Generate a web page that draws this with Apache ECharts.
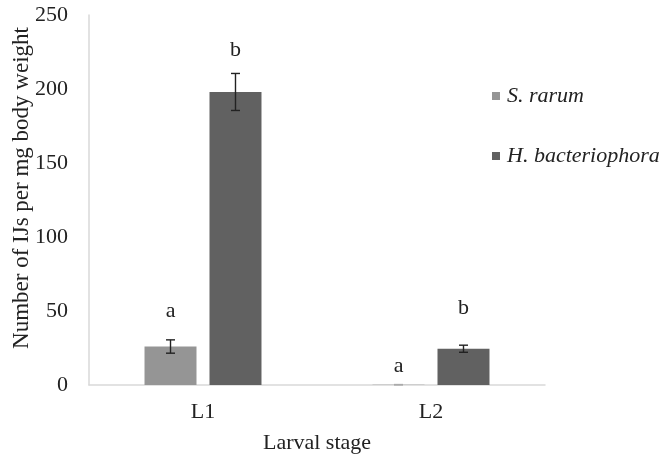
<!DOCTYPE html>
<html><head><meta charset="utf-8">
<script src="https://cdn.jsdelivr.net/npm/echarts@6/dist/echarts.min.js"></script>
<style>html,body{margin:0;padding:0;background:#fff}#c{width:670px;height:460px}</style>
</head><body><div id="c"></div>
<script>
var categories = ['L1', 'L2'];
var seriesNames = ['S. rarum', 'H. bacteriophora'];
var sRarum = [26, 0.2];
var sRarumErr = [4.5, 0.1];
var hBact = [198, 24.5];
var hBactErr = [12.5, 2.4];
var sRarumLetters = ['a', 'a'];
var hBactLetters = ['b', 'b'];
var sRarumLetterY = [50, 13];
var hBactLetterY = [226, 52];
var yTicks = [0, 50, 100, 150, 200, 250];

var FONT = '"Liberation Serif", "Times New Roman", serif';
var colors = ['#959595', '#616161'];
var BAR_FRAC = 0.228, GAP_FRAC = 0.25;

function offsetFor(idx, band) {
  var w = band * BAR_FRAC, g = w * GAP_FRAC;
  var total = 2 * w + g;
  return -total / 2 + w / 2 + idx * (w + g);
}

function makeOverlay(idx, vals, errs, letters, letterY) {
  var data = categories.map(function (c, i) { return [i, vals[i], errs[i], letterY[i]]; });
  return {
    type: 'custom',
    name: seriesNames[idx] + ' err',
    silent: true,
    z: 5,
    data: data,
    encode: { x: 0, y: 1 },
    renderItem: function (params, api) {
      var i = api.value(0), v = api.value(1), e = api.value(2), ly = api.value(3);
      var band = api.size([1, 0])[0];
      var off = offsetFor(idx, band);
      var top = api.coord([i, v + e]);
      var bot = api.coord([i, v - e < 0 ? 0 : v - e]);
      var lp = api.coord([i, ly]);
      var x = top[0] + off;
      var cap = 4.5;
      var small = (bot[1] - top[1]) < 2;
      var st = { stroke: small ? '#aaa' : '#222', lineWidth: 1.4 };
      return {
        type: 'group',
        children: [
          { type: 'line', shape: { x1: x, y1: top[1], x2: x, y2: bot[1] }, style: st },
          { type: 'line', shape: { x1: x - cap, y1: top[1], x2: x + cap, y2: top[1] }, style: st },
          { type: 'line', shape: { x1: x - cap, y1: bot[1], x2: x + cap, y2: bot[1] }, style: st },
          { type: 'text', x: x, y: lp[1], style: { text: letters[params.dataIndex], fill: '#222', font: '22px ' + FONT, align: 'center', verticalAlign: 'middle' } }
        ]
      };
    }
  };
}

var chart = echarts.init(document.getElementById('c'), null, { renderer: 'canvas' });
chart.setOption({
  animation: false,
  backgroundColor: '#fff',
  color: colors,
  textStyle: { fontFamily: FONT },
  grid: { left: 89, right: 125, top: 15, bottom: 75, containLabel: false, outerBoundsMode: 'none' },
  legend: {
    orient: 'vertical', left: 487, top: 80, itemGap: 38,
    itemWidth: 8, itemHeight: 8, icon: 'rect', itemStyle: { borderWidth: 0 },
    textStyle: { fontFamily: FONT, fontSize: 22, fontStyle: 'italic', color: '#222', padding: [0, 0, 0, 2] },
    data: seriesNames
  },
  xAxis: {
    type: 'category', data: categories,
    name: 'Larval stage', nameLocation: 'middle', nameGap: 47, nameMoveOverlap: false,
    nameTextStyle: { fontFamily: FONT, fontSize: 22, color: '#222' },
    axisLine: { lineStyle: { color: '#d9d9d9', width: 1.5 } },
    axisTick: { show: false },
    axisLabel: { fontFamily: FONT, fontSize: 22, color: '#222', margin: 16 }
  },
  yAxis: {
    type: 'value', min: yTicks[0], max: yTicks[yTicks.length - 1], interval: 50,
    name: 'Number of IJs per mg body weight', nameLocation: 'middle', nameGap: 56, nameMoveOverlap: false,
    nameTextStyle: { fontFamily: FONT, fontSize: 23, color: '#222', padding: [0, 0, 0, 24] },
    axisLine: { show: true, lineStyle: { color: '#d9d9d9', width: 1.5 } },
    axisTick: { show: false },
    splitLine: { show: false },
    axisLabel: { fontFamily: FONT, fontSize: 22, color: '#222', margin: 21 }
  },
  series: [
    { type: 'bar', name: seriesNames[0], data: sRarum, barWidth: (BAR_FRAC * 100) + '%', barGap: (GAP_FRAC * 100) + '%', itemStyle: { color: colors[0] } },
    { type: 'bar', name: seriesNames[1], data: hBact, barWidth: (BAR_FRAC * 100) + '%', barGap: (GAP_FRAC * 100) + '%', itemStyle: { color: colors[1] } },
    makeOverlay(0, sRarum, sRarumErr, sRarumLetters, sRarumLetterY),
    makeOverlay(1, hBact, hBactErr, hBactLetters, hBactLetterY)
  ]
});
</script>
</body></html>
